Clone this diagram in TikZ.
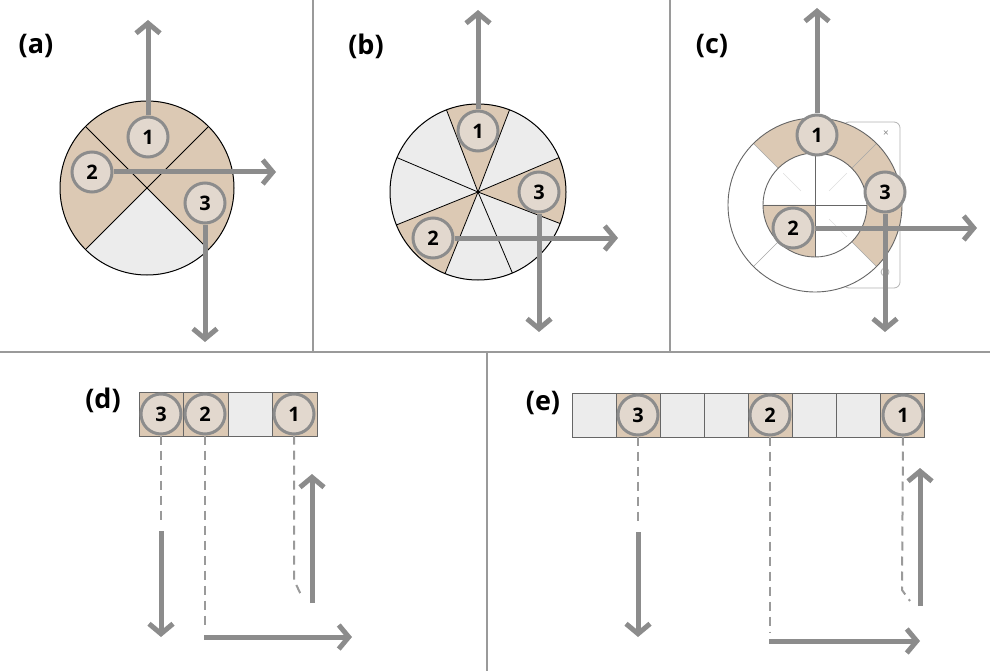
\documentclass[tikz,border=0pt]{standalone}
\usepackage{fontspec}
\setmainfont{Open Sans}
\usetikzlibrary{arrows.meta}
\definecolor{tanc}{HTML}{DCC9B4}
\definecolor{lgray}{HTML}{ECECEC}
\definecolor{cfill}{HTML}{E2D8CE}
\definecolor{agray}{HTML}{8C8C8C}
\definecolor{dgray}{HTML}{9A9A9A}
\begin{document}
\begin{tikzpicture}[x=1pt,y=-1pt,
  num/.style={circle,draw=agray,line width=3pt,fill=cfill,minimum size=40pt,inner sep=0pt,font=\fontsize{20}{20}\selectfont\bfseries},
  lab/.style={font=\fontsize{27}{27}\selectfont\bfseries},
  arr/.style={draw=agray,line width=5pt,-{Straight Barb[length=10pt,width=24pt,line width=5pt]}},
  dsh/.style={draw=dgray,line width=2pt,dash pattern=on 9pt off 6pt},
  div/.style={draw=dgray,line width=1.5pt},
  sep/.style={draw=black,line width=1pt}]
\useasboundingbox (0,0) rectangle (990,671);
% dividers
\draw[div] (313,0) -- (313,352);
\draw[div] (670,0) -- (670,352);
\draw[div] (0,352) -- (990,352);
\draw[div] (487,352) -- (487,671);
% panel labels
\node[lab] (la) at (36,46) {(a)};
\node[lab] (lb) at (366,46) {(b)};
\node[lab] (lc) at (712,46) {(c)};
\node[lab] (ld) at (103,400) {(d)};
\node[lab] (le) at (543,403) {(e)};
% ---------- (a)
\begin{scope}[shift={(147,188)},yscale=-1]
  \fill[tanc] (0,0) circle[radius=87];
  \fill[lgray] (0,0) -- (225:87) arc[start angle=225,end angle=315,radius=87] -- cycle;
  \draw[sep] (45:87) -- (225:87) (135:87) -- (315:87);
  \draw[sep] (0,0) circle[radius=87];
\end{scope}
\node[num] (a1) at (148,137) {1};
\node[num] (a2) at (92,172) {2};
\node[num] (a3) at (205,203) {3};
\coordinate (a1e) at (148,20);
\coordinate (a2e) at (276,172);
\coordinate (a3e) at (205,342);
\draw[arr] (a1.north) -- (a1e);
\draw[arr] (a2.east) -- (a2e);
\draw[arr] (a3.south) -- (a3e);
% ---------- (b)
\begin{scope}[shift={(478,192)},yscale=-1]
  \fill[lgray] (0,0) circle[radius=88];
  \foreach \a/\b in {69/111,339/383,202/248}
    \fill[tanc] (0,0) -- (\a:88) arc[start angle=\a,end angle=\b,radius=88] -- cycle;
  \foreach \a in {23,69,111,157,202,248,293,339}
    \draw[line width=0.8pt] (0,0) -- (\a:88);
  \draw[sep] (0,0) circle[radius=88];
\end{scope}
\node[num] (b1) at (478,131) {1};
\node[num] (b2) at (433,238) {2};
\node[num] (b3) at (539,192) {3};
\coordinate (b1e) at (478,10);
\coordinate (b2e) at (618,238);
\coordinate (b3e) at (539,332);
\draw[arr] (b1.north) -- (b1e);
\draw[arr] (b2.east) -- (b2e);
\draw[arr] (b3.south) -- (b3e);
% ---------- (c)
\draw[draw=gray!60,fill=white,rounded corners=6pt,line width=0.8pt] (843,122) rectangle (900,288);
\node[text=gray,font=\fontsize{10}{10}\selectfont] (cx) at (886,134) {×};
\draw[gray!60,line width=0.8pt] (885,272) circle[radius=4];
\begin{scope}[shift={(815,205)},yscale=-1]
  \fill[white] (0,0) circle[radius=87];
  \foreach \a/\b in {45/135,-45/45}
    \fill[tanc] (\a:52) arc[start angle=\a,end angle=\b,radius=52] -- (\b:87) arc[start angle=\b,end angle=\a,radius=87] -- cycle;
  \fill[tanc] (0,0) -- (180:52) arc[start angle=180,end angle=270,radius=52] -- cycle;
  \foreach \a in {45,135,225,315}
    \draw[gray!70,line width=0.5pt] (\a:52) -- (\a:87);
  \foreach \a in {45,135,225,315}
    \draw[gray!25,line width=0.5pt] (\a:20) -- (\a:45);
  \draw[gray!80!black,line width=0.8pt] (0,52) -- (0,-52) (-52,0) -- (52,0);
  \draw[gray!80!black,line width=0.9pt] (0,0) circle[radius=87] (0,0) circle[radius=52];
\end{scope}
\node[num] (c1) at (817,135) {1};
\node[num] (c2) at (793,228) {2};
\node[num] (c3) at (885,192) {3};
\coordinate (c1e) at (817,8);
\coordinate (c2e) at (977,228);
\coordinate (c3e) at (885,332);
\draw[arr] (c1.north) -- (c1e);
\draw[arr] (c2.east) -- (c2e);
\draw[arr] (c3.south) -- (c3e);
% ---------- (d)
\foreach \i/\c in {0/tanc,1/tanc,2/lgray,3/tanc}
  \draw[fill=\c,draw=gray!80!black,line width=0.8pt] (139+44.5*\i,392) rectangle (183.5+44.5*\i,436);
\node[num] (d3) at (161,414) {3};
\node[num] (d2) at (205,414) {2};
\node[num] (d1) at (294,414) {1};
\coordinate (d3m) at (161,523);
\coordinate (d2m) at (205,628);
\coordinate (d1m) at (294,580);
\coordinate (d1n) at (302,597);
\draw[dsh] (d3.south) -- (d3m);
\draw[dsh] (d2.south) -- (d2m);
\draw[dsh] (d1.south) -- (d1m) -- (d1n);
\coordinate (d3a) at (161,531);
\coordinate (d3b) at (161,637);
\coordinate (d2a) at (204,637);
\coordinate (d2b) at (352,637);
\coordinate (d1a) at (312,603);
\coordinate (d1b) at (312,474);
\draw[arr] (d3a) -- (d3b);
\draw[arr] (d2a) -- (d2b);
\draw[arr] (d1a) -- (d1b);
% ---------- (e)
\foreach \i/\c in {0/lgray,1/tanc,2/lgray,3/lgray,4/tanc,5/lgray,6/lgray,7/tanc}
  \draw[fill=\c,draw=gray!80!black,line width=0.8pt] (572+44.1*\i,393) rectangle (616.1+44.1*\i,437);
\node[num] (e3) at (638,415) {3};
\node[num] (e2) at (770,415) {2};
\node[num] (e1) at (903,415) {1};
\coordinate (e3m) at (638,525);
\coordinate (e2m) at (770,633);
\coordinate (e1m) at (902,590);
\coordinate (e1n) at (910,601);
\draw[dsh] (e3.south) -- (e3m);
\draw[dsh] (e2.south) -- (e2m);
\draw[dsh] (e1.south) -- (e1m) -- (e1n);
\coordinate (e3a) at (638,532);
\coordinate (e3b) at (638,637);
\coordinate (e2a) at (769,641);
\coordinate (e2b) at (920,641);
\coordinate (e1a) at (920,606);
\coordinate (e1b) at (920,468);
\draw[arr] (e3a) -- (e3b);
\draw[arr] (e2a) -- (e2b);
\draw[arr] (e1a) -- (e1b);
\end{tikzpicture}
\end{document}
